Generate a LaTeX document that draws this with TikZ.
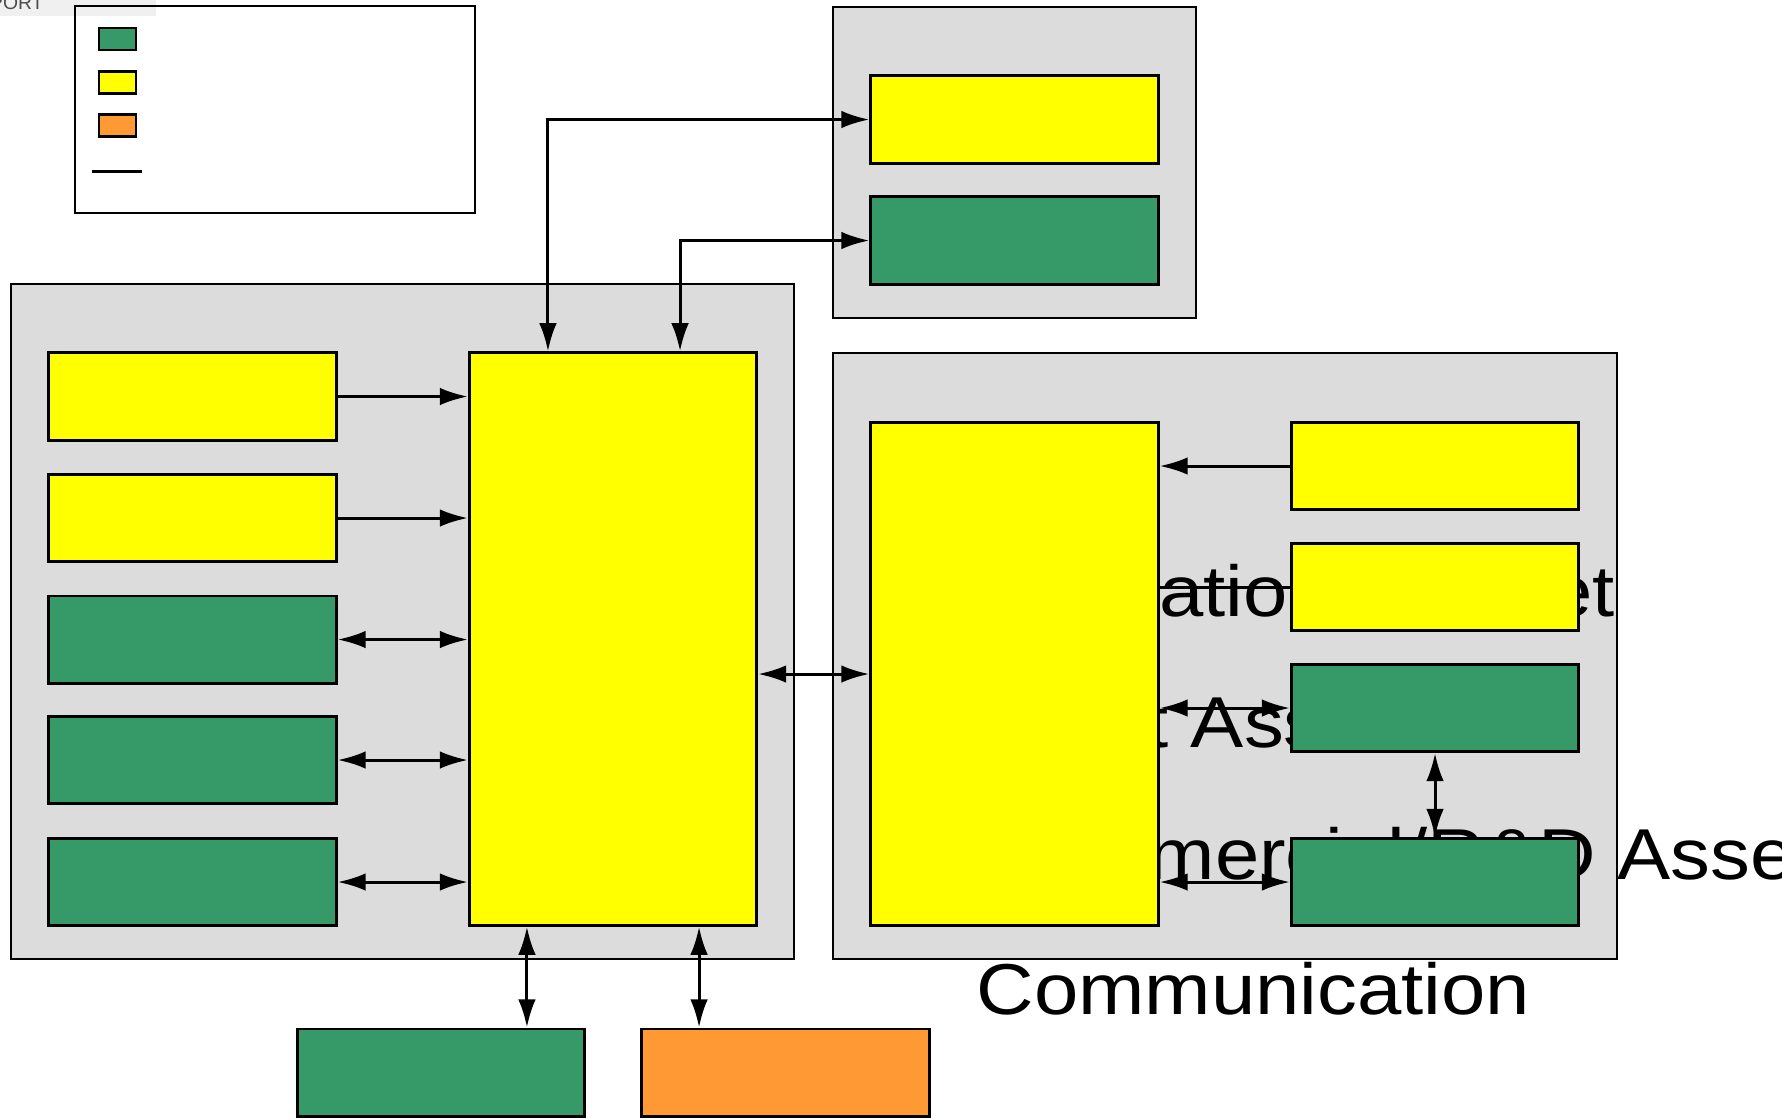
\documentclass[tikz,border=0pt]{standalone}
\usepackage{fontspec}
\setmainfont{Liberation Sans}
\newfontfamily\bigfont[FakeStretch=1.105]{Liberation Sans}
\usetikzlibrary{arrows.meta}

\definecolor{boxgreen}{HTML}{359968}
\definecolor{boxyellow}{HTML}{FFFF00}
\definecolor{boxorange}{HTML}{FF9933}
\definecolor{panelgray}{HTML}{DCDCDC}

\tikzset{
  panel/.style={draw, fill=panelgray, line width=0.55pt},
  blk/.style={draw, line width=0.85pt, inner sep=0pt, minimum width=2.87cm, minimum height=0.87cm},
  tallblk/.style={blk, fill=boxyellow, minimum height=#1},
  swatch/.style={draw, line width=0.8pt, inner sep=0pt, minimum width=0.37cm, minimum height=0.22cm},
  biglabel/.style={anchor=base west, inner sep=0pt, font=\bigfont\fontsize{20.5}{24}\selectfont},
}

\begin{document}
\begin{tikzpicture}[x=0.01cm, y=-0.01cm, >={Latex[length=8pt,width=5pt]}, line width=0.85pt]
  \useasboundingbox (0,0) rectangle (1782,1117);

  % Заголовок (обрезан)
  \fill[black!6] (0,0) rectangle (156,16);
  \node[anchor=base east, inner sep=0pt, text=black!70, font=\fontsize{5.5}{6}\selectfont] (hdr) at (45,9) {PORT};

  % Легенда
  \draw[line width=0.8pt] (75,6) rectangle (475,213);
  \node[swatch, fill=boxgreen] (lgG) at (117.5,39) {};
  \node[swatch, fill=boxyellow] (lgY) at (117.5,82.5) {};
  \node[swatch, fill=boxorange] (lgO) at (117.5,125.5) {};
  \draw (92,171) -- (142,171);

  % Серые панели
  \draw[panel] (11,284) rectangle (794,959);
  \draw[panel] (833,7) rectangle (1196,318);
  \draw[panel] (833,353) rectangle (1617,959);

  % Подписи, лежат под блоками
  \node[biglabel] (txA) at (976,616) {Educational Asset};
  \node[biglabel] (txB) at (977,747) {Sport Assets};
  \node[biglabel] (txC) at (979,879) {Commercial/R\&D Assets};
  \node[biglabel] (txD) at (975,1014) {Communication};

  % Левая панель
  \node[blk, fill=boxyellow] (ly1) at (192.5,396.5) {};
  \node[blk, fill=boxyellow] (ly2) at (192.5,518) {};
  \node[blk, fill=boxgreen] (lg1) at (192.5,639.5) {};
  \node[blk, fill=boxgreen] (lg2) at (192.5,760) {};
  \node[blk, fill=boxgreen] (lg3) at (192.5,882) {};
  \node[tallblk=5.72cm] (bigL) at (613,639) {};

  % Верхняя правая панель
  \node[blk, fill=boxyellow] (ty) at (1014.5,119.5) {};
  \node[blk, fill=boxgreen] (tg) at (1014.5,240.5) {};

  % Правая панель
  \node[tallblk=5.02cm] (bigR) at (1014.5,674) {};
  \node[blk, fill=boxyellow] (ry1) at (1435,466) {};
  \node[blk, fill=boxyellow] (ry2) at (1435,587) {};
  \node[blk, fill=boxgreen] (rg1) at (1435,708) {};
  \node[blk, fill=boxgreen] (rg2) at (1435,882) {};

  % Нижние блоки
  \node[blk, fill=boxgreen] (bg) at (441,1072.5) {};
  \node[blk, fill=boxorange] (bo) at (785.5,1072.5) {};

  % Связи сверху
  \draw[<->] ([xshift=-0.65cm]bigL.north) |- (ty.west);
  \draw[<->] ([xshift=0.67cm]bigL.north) |- (tg.west);

  % Связи слева
  \draw[->] (ly1.east) -- (ly1.east -| bigL.west);
  \draw[->] (ly2.east) -- (ly2.east -| bigL.west);
  \foreach \b in {lg1,lg2,lg3}
    \draw[<->] (\b.east) -- (\b.east -| bigL.west);

  % Между панелями
  \draw[<->] (bigL.east |- bigR.west) -- (bigR.west);

  % Связи справа
  \draw[->] (ry1.west) -- (ry1.west -| bigR.east);
  \draw (ry2.west) -- (ry2.west -| bigR.east);
  \draw[<->] (rg1.west) -- (rg1.west -| bigR.east);
  \draw[<->] (rg2.west) -- (rg2.west -| bigR.east);
  \draw[<->] (rg1.south) -- (rg2.north);

  % Связи снизу
  \draw[<->] ([xshift=-0.86cm]bigL.south) -- ([xshift=-0.86cm]bigL.south |- bg.north);
  \draw[<->] ([xshift=0.86cm]bigL.south) -- ([xshift=0.86cm]bigL.south |- bo.north);
\end{tikzpicture}
\end{document}
